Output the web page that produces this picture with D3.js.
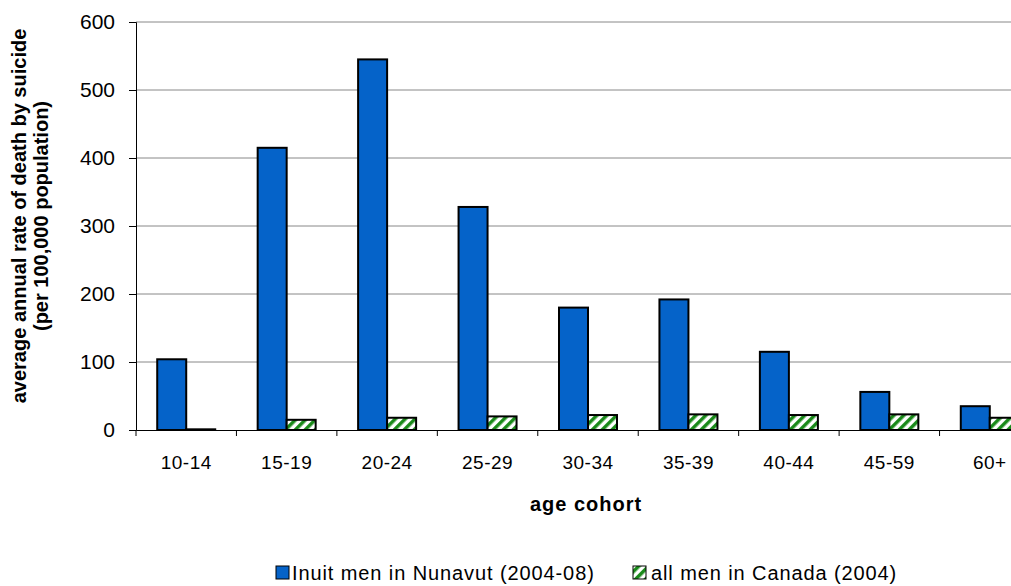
<!DOCTYPE html>
<html>
<head>
<meta charset="utf-8" />
<style>
  body { margin: 0; background: #fff; }
  text { font-family: Arial, "Liberation Sans", sans-serif; }
</style>
</head>
<body>
<svg id="chart" width="1011" height="586"></svg>
<script src="https://cdnjs.cloudflare.com/ajax/libs/d3/7.8.5/d3.min.js"></script>
<script>
var categories = ['10-14', '15-19', '20-24', '25-29', '30-34', '35-39', '40-44', '45-59', '60+'];
var inuit = [104, 415, 545, 328, 180, 192, 115, 56, 35];
var canada = [1, 15, 18, 20, 22, 23, 22, 23, 18];
var yTicks = [0, 100, 200, 300, 400, 500, 600];

var svg = d3.select('#chart');
var mLeft = 136, mRight = 1040, mTop = 22, mBottom = 430;

var defs = svg.append('defs');
var pat = defs.append('pattern').attr('id', 'hatch')
  .attr('patternUnits', 'userSpaceOnUse').attr('width', 7).attr('height', 7)
  .attr('patternTransform', 'rotate(45)');
pat.append('rect').attr('width', 7).attr('height', 7).attr('fill', '#fff');
pat.append('rect').attr('width', 3.5).attr('height', 7).attr('fill', '#1a8a1a');

var x = d3.scaleBand().domain(categories).range([mLeft, mRight]);
var y = d3.scaleLinear().domain([0, 600]).range([mBottom, mTop]);

// gridlines
svg.append('g').selectAll('line').data(yTicks.slice(1)).enter().append('line')
  .attr('x1', mLeft).attr('x2', mRight)
  .attr('y1', function (d) { return y(d); }).attr('y2', function (d) { return y(d); })
  .attr('stroke', '#888').attr('stroke-width', 1);

var yAxis = svg.append('g').attr('transform', 'translate(' + mLeft + ',0)')
  .call(d3.axisLeft(y).tickValues(yTicks).tickSize(7).tickPadding(14));
yAxis.selectAll('text').attr('font-size', 21).attr('fill', '#000');
yAxis.select('.domain').attr('stroke', '#000');

var bw = 29;
svg.append('g').selectAll('rect').data(inuit).enter().append('rect')
  .attr('x', function (d, i) { return x(categories[i]) + x.bandwidth() / 2 - bw; })
  .attr('y', function (d) { return y(d); })
  .attr('width', bw).attr('height', function (d) { return mBottom - y(d); })
  .attr('fill', '#0563c9').attr('stroke', '#000').attr('stroke-width', 2);
svg.append('g').selectAll('rect').data(canada).enter().append('rect')
  .attr('x', function (d, i) { return x(categories[i]) + x.bandwidth() / 2; })
  .attr('y', function (d) { return y(d); })
  .attr('width', bw).attr('height', function (d) { return mBottom - y(d); })
  .attr('fill', 'url(#hatch)').attr('stroke', '#000').attr('stroke-width', 2);

var xAxis = svg.append('g').attr('transform', 'translate(0,' + mBottom + ')')
  .call(d3.axisBottom(x).tickSize(0).tickPadding(26));
xAxis.selectAll('text').attr('font-size', 19).attr('fill', '#000').attr('letter-spacing', 0.5);
xAxis.select('.domain').attr('stroke', '#000');
svg.append('g').selectAll('line').data(d3.range(categories.length + 1)).enter().append('line')
  .attr('x1', function (i) { return mLeft + i * x.step(); })
  .attr('x2', function (i) { return mLeft + i * x.step(); })
  .attr('y1', mBottom).attr('y2', mBottom + 6).attr('stroke', '#000');

svg.append('text').attr('x', 586).attr('y', 511).attr('text-anchor', 'middle')
  .attr('font-size', 20).attr('font-weight', 'bold').attr('letter-spacing', 1).text('age cohort');

var yt = svg.append('text').attr('transform', 'translate(26,216) rotate(-90)')
  .attr('text-anchor', 'middle').attr('font-size', 20).attr('font-weight', 'bold');
yt.append('tspan').attr('x', 0).attr('dy', 0).text('average annual rate of death by suicide');
yt.append('tspan').attr('x', 0).attr('dy', 22).text('(per 100,000 population)');

var lg = svg.append('g').attr('transform', 'translate(276,580)');
lg.append('rect').attr('x', 0).attr('y', -14).attr('width', 13).attr('height', 13)
  .attr('fill', '#0563c9').attr('stroke', '#000');
lg.append('text').attr('x', 16).attr('y', 0).attr('font-size', 20).attr('letter-spacing', 0.9)
  .text('Inuit men in Nunavut (2004-08)');
lg.append('rect').attr('x', 357).attr('y', -14).attr('width', 13).attr('height', 13)
  .attr('fill', 'url(#hatch)').attr('stroke', '#000');
lg.append('text').attr('x', 375).attr('y', 0).attr('font-size', 20).attr('letter-spacing', 0.9)
  .text('all men in Canada (2004)');
</script>
</body>
</html>
